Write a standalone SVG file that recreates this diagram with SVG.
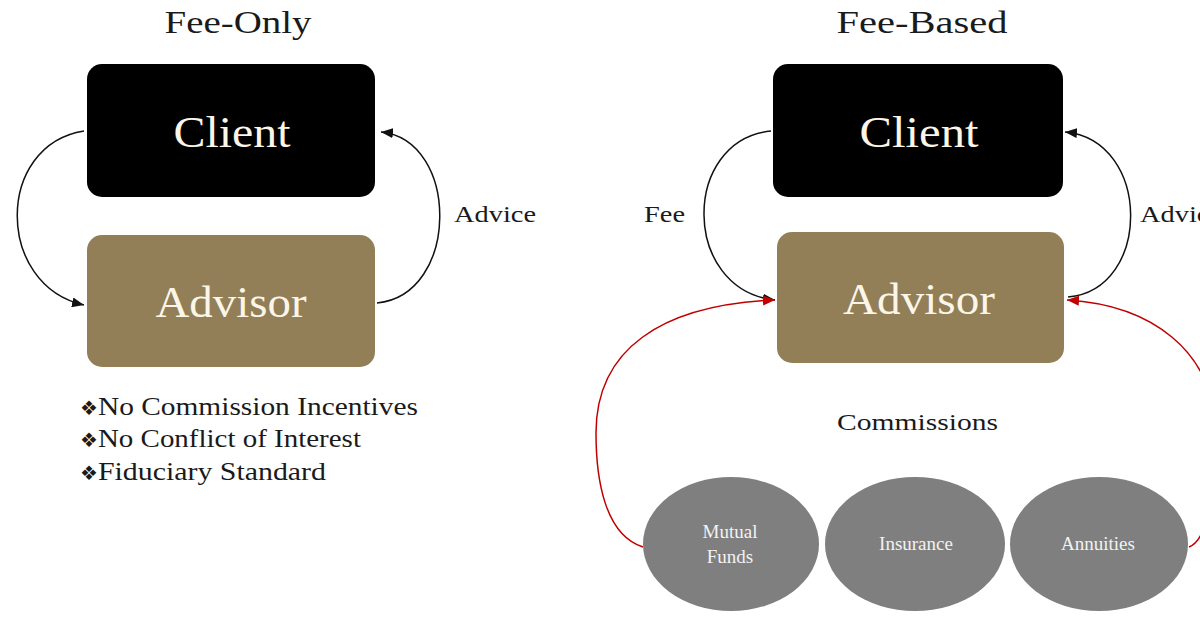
<svg xmlns="http://www.w3.org/2000/svg" width="1200" height="630" viewBox="0 0 1200 630">
<style>
  .t { font-family: "Liberation Serif", "DejaVu Serif", serif; fill: #1a1a1a; }
  .box-t { font-family: "Liberation Serif", "DejaVu Serif", serif; fill: #fbf6e8; font-size: 45px; text-anchor: middle; }
  .ell-t { font-family: "Liberation Serif", "DejaVu Serif", serif; fill: #f2f2f2; font-size: 19px; text-anchor: middle; }
  .client { fill: #000000; }
  .advisor { fill: #927f58; }
  .prod { fill: #7f7f7f; }
  .blk { fill: none; stroke: #111; stroke-width: 1.5; }
  .red { fill: none; stroke: #c00000; stroke-width: 1.5; }
  .bul { font-family: "Liberation Serif", "DejaVu Serif", serif; fill: #1a1a1a; font-size: 25px; }
  .sym { font-family: "DejaVu Sans", sans-serif; font-size: 20px; }
</style>
<defs>
  <marker id="ab" markerWidth="12" markerHeight="10" refX="12" refY="5" orient="auto" markerUnits="userSpaceOnUse">
    <path d="M0,0 L12,5 L0,10 z" fill="#111"/>
  </marker>
  <marker id="ar" markerWidth="12" markerHeight="10" refX="12" refY="5" orient="auto" markerUnits="userSpaceOnUse">
    <path d="M0,0 L12,5 L0,10 z" fill="#c00000"/>
  </marker>
</defs>
<rect width="1200" height="630" fill="#ffffff"/>

<text class="t" x="238" y="33" font-size="32" text-anchor="middle" textLength="147" lengthAdjust="spacingAndGlyphs">Fee-Only</text>
<text class="t" x="922" y="33" font-size="32" text-anchor="middle" textLength="171" lengthAdjust="spacingAndGlyphs">Fee-Based</text>

<g id="connectors">
  <path class="blk" d="M84,131 C -5,145 -5,285 84,305" marker-end="url(#ab)"/>
  <path class="blk" d="M377,303 C 460,295 460,140 381,132" marker-end="url(#ab)"/>
  <path class="blk" d="M771,131 C 681,140 681,290 775,300" marker-end="url(#ab)"/>
  <path class="blk" d="M1068,297 C 1152,290 1152,140 1065,132" marker-end="url(#ab)"/>
  <path class="red" d="M643,547 C 605,535 596,480 596,433 C 596,350 660,305 775,300" marker-end="url(#ar)"/>
  <path class="red" d="M1189,547 C 1210,540 1215,480 1215,433 C 1215,350 1150,305 1067,300" marker-end="url(#ar)"/>
  <text class="t" x="454" y="222" font-size="23" textLength="82" lengthAdjust="spacingAndGlyphs">Advice</text>
  <text class="t" x="644" y="222" font-size="23" textLength="41" lengthAdjust="spacingAndGlyphs">Fee</text>
  <text class="t" x="1140" y="222" font-size="23" textLength="82" lengthAdjust="spacingAndGlyphs">Advice</text>
  <text class="t" x="837" y="430" font-size="24" textLength="161" lengthAdjust="spacingAndGlyphs">Commissions</text>
</g>

<g id="client-left">
  <rect class="client" x="87" y="64" width="288" height="133" rx="15"/>
  <text class="box-t" x="232" y="147" textLength="117" lengthAdjust="spacingAndGlyphs">Client</text>
</g>
<g id="advisor-left">
  <rect class="advisor" x="87" y="235" width="288" height="132" rx="15"/>
  <text class="box-t" x="231" y="317" textLength="151" lengthAdjust="spacingAndGlyphs">Advisor</text>
</g>
<g id="client-right">
  <rect class="client" x="773" y="64" width="290" height="133" rx="15"/>
  <text class="box-t" x="919" y="147" textLength="119" lengthAdjust="spacingAndGlyphs">Client</text>
</g>
<g id="advisor-right">
  <rect class="advisor" x="777" y="232" width="287" height="131" rx="15"/>
  <text class="box-t" x="919" y="314" textLength="152" lengthAdjust="spacingAndGlyphs">Advisor</text>
</g>

<g id="benefits">
  <text class="bul" x="80" y="415"><tspan class="sym">❖</tspan><tspan textLength="320" lengthAdjust="spacingAndGlyphs">No Commission Incentives</tspan></text>
  <text class="bul" x="80" y="447"><tspan class="sym">❖</tspan><tspan textLength="263" lengthAdjust="spacingAndGlyphs">No Conflict of Interest</tspan></text>
  <text class="bul" x="80" y="480"><tspan class="sym">❖</tspan><tspan textLength="228" lengthAdjust="spacingAndGlyphs">Fiduciary Standard</tspan></text>
</g>

<g id="mutual-funds">
  <ellipse class="prod" cx="731" cy="544" rx="88" ry="67"/>
  <text class="ell-t" x="730" y="538">Mutual</text>
  <text class="ell-t" x="730" y="563">Funds</text>
</g>
<g id="insurance">
  <ellipse class="prod" cx="915" cy="544" rx="90" ry="67"/>
  <text class="ell-t" x="916" y="550">Insurance</text>
</g>
<g id="annuities">
  <ellipse class="prod" cx="1099" cy="544" rx="89" ry="67"/>
  <text class="ell-t" x="1098" y="550">Annuities</text>
</g>
</svg>
